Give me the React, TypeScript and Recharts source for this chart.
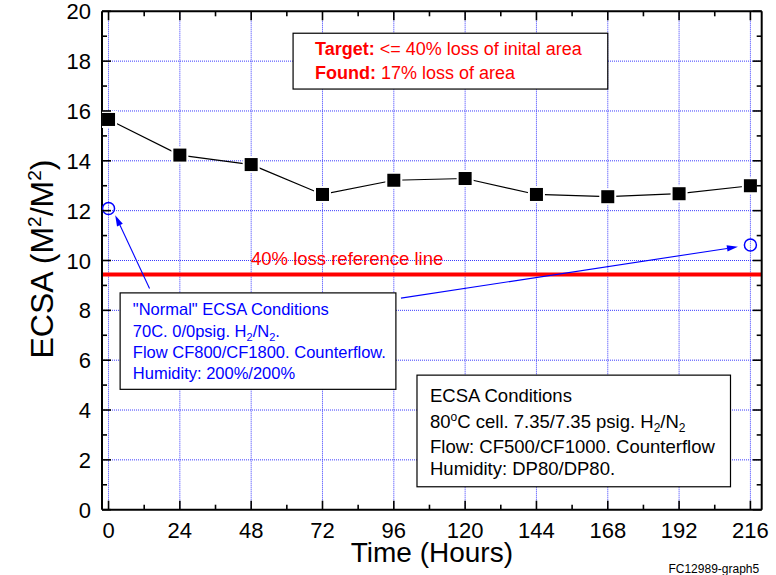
import React from 'react';
import {
  ComposedChart,
  Line,
  XAxis,
  YAxis,
  CartesianGrid,
  ReferenceLine,
  ReferenceArea,
} from 'recharts';

// ---- data ----
const hours = [0, 24, 48, 72, 96, 120, 144, 168, 192, 216];
const ecsaValues = [15.66, 14.23, 13.85, 12.65, 13.22, 13.29, 12.65, 12.56, 12.68, 13.0];
const normalHours = [0, 216];
const normalValues = [12.09, 10.62];
const referenceValue = 9.44;

const xMinorTicks = [0, 12, 24, 36, 48, 60, 72, 84, 96, 108, 120, 132, 144, 156, 168, 180, 192, 204, 216];
const xMajorTicks = [0, 24, 48, 72, 96, 120, 144, 168, 192, 216];
const yTicks = [0, 1, 2, 3, 4, 5, 6, 7, 8, 9, 10, 11, 12, 13, 14, 15, 16, 17, 18, 19, 20];
const yGridValues = [2, 4, 6, 8, 10, 12, 14, 16, 18];
const xDomain = [-2.2, 219.8];
const yDomain = [0, 20];

// annotation anchors (data coordinates)
const targetBox = { x1: 62.1, x2: 168.0, y1: 16.88, y2: 19.12 };
const normalBox = { x1: 3.9, x2: 96.7, y1: 4.83, y2: 8.7 };
const condBox = { x1: 103.8, x2: 209.3, y1: 0.92, y2: 5.4 };
const arrowToStart = [{ x: 13.8, y: 8.88 }, { x: 2.25, y: 11.82 }];
const arrowToEnd = [{ x: 98.4, y: 8.49 }, { x: 211.8, y: 10.55 }];

const ecsaRows = hours.map((t, i) => ({ t, v: ecsaValues[i] }));
const normalRows = normalHours.map((t, i) => ({ t, v: normalValues[i] }));

const FONT = '"Liberation Sans", Arial, Helvetica, sans-serif';
const BLUE = '#0000ff';
const RED = '#ff0000';

const isMajorX = (v: number) => xMajorTicks.indexOf(v) >= 0;

const BottomTick = (props: any) => {
  const { x, y, payload } = props;
  const major = isMajorX(payload.value);
  return (
    <g>
      <line x1={x} y1={y} x2={x} y2={y - (major ? 9 : 5)} stroke="#000" strokeWidth={1.6} />
      {major && (
        <text x={x} y={y + 28.3} textAnchor="middle" fontSize={22} fontFamily={FONT} fill="#000">
          {payload.value}
        </text>
      )}
    </g>
  );
};

const TopTick = (props: any) => {
  const { x, y, payload } = props;
  const major = isMajorX(payload.value);
  return <line x1={x} y1={y} x2={x} y2={y + (major ? 9 : 5)} stroke="#000" strokeWidth={1.6} />;
};

const LeftTick = (props: any) => {
  const { x, y, payload } = props;
  const major = payload.value % 2 === 0;
  return (
    <g>
      <line x1={x} y1={y} x2={x + (major ? 9 : 5)} y2={y} stroke="#000" strokeWidth={1.6} />
      {major && (
        <text x={x - 11} y={y + 8} textAnchor="end" fontSize={22} fontFamily={FONT} fill="#000">
          {payload.value}
        </text>
      )}
    </g>
  );
};

const RightTick = (props: any) => {
  const { x, y, payload } = props;
  const major = payload.value % 2 === 0;
  return <line x1={x} y1={y} x2={x - (major ? 9 : 5)} y2={y} stroke="#000" strokeWidth={1.6} />;
};

const SquareDot = (props: any) => {
  const { cx, cy } = props;
  if (cx == null || cy == null) return null;
  return (
    <rect
      x={cx - 6.5}
      y={cy - 6.5}
      width={13}
      height={13}
      fill="#000"
      stroke="#fff"
      strokeWidth={4}
      paintOrder="stroke"
    />
  );
};

const CircleDot = (props: any) => {
  const { cx, cy } = props;
  if (cx == null || cy == null) return null;
  return <circle cx={cx} cy={cy} r={6} fill="none" stroke={BLUE} strokeWidth={1.5} />;
};

const Arrow = (props: any) => {
  const { x1, y1, x2, y2 } = props;
  if ([x1, y1, x2, y2].some((v) => v == null || isNaN(v))) return null;
  const dx = x2 - x1;
  const dy = y2 - y1;
  const len = Math.sqrt(dx * dx + dy * dy) || 1;
  const ux = dx / len;
  const uy = dy / len;
  const hl = 11;
  const hw = 3.2;
  const bx = x2 - ux * hl;
  const by = y2 - uy * hl;
  const pts = `${x2},${y2} ${bx - uy * hw},${by + ux * hw} ${bx + uy * hw},${by - ux * hw}`;
  return (
    <g>
      <line x1={x1} y1={y1} x2={bx} y2={by} stroke={BLUE} strokeWidth={1.1} />
      <polygon points={pts} fill={BLUE} />
    </g>
  );
};

const RedRefLine = (props: any) => {
  const { x1, y1, x2, y2 } = props;
  return (
    <g>
      <line x1={x1} y1={y1} x2={x2} y2={y2} stroke={RED} strokeWidth={4} />
      <text x={x1 + 149} y={y1 - 9.3} fontSize={18.5} fontFamily={FONT} fill={RED}>
        40% loss reference line
      </text>
    </g>
  );
};

const TargetBoxShape = (props: any) => {
  const { x, y, width, height } = props;
  return (
    <g>
      <rect x={x} y={y} width={width} height={height} fill="#fff" stroke="#000" strokeWidth={1.2} />
      <text x={x + 22} y={y + 22} fontSize={18} fontFamily={FONT} fill={RED}>
        <tspan fontWeight="bold">Target:</tspan>
        {' <= 40% loss of inital area'}
      </text>
      <text x={x + 22} y={y + 45.3} fontSize={18} fontFamily={FONT} fill={RED}>
        <tspan fontWeight="bold">Found:</tspan>
        {' 17% loss of area'}
      </text>
    </g>
  );
};

const NormalBoxShape = (props: any) => {
  const { x, y, width, height } = props;
  const fs = 16.5;
  const tx = x + 12.7;
  return (
    <g fontFamily={FONT} fontSize={fs} fill={BLUE}>
      <rect x={x} y={y} width={width} height={height} fill="#fff" stroke="#000" strokeWidth={1.2} />
      <text x={tx} y={y + 22.3}>"Normal" ECSA Conditions</text>
      <text x={tx} y={y + 43.8}>
        70C. 0/0psig. H
        <tspan dy={4} fontSize={11}>2</tspan>
        <tspan dy={-4}>/N</tspan>
        <tspan dy={4} fontSize={11}>2</tspan>
        <tspan dy={-4}>.</tspan>
      </text>
      <text x={tx} y={y + 64.8}>Flow CF800/CF1800. Counterflow.</text>
      <text x={tx} y={y + 85.8}>Humidity: 200%/200%</text>
    </g>
  );
};

const CondBoxShape = (props: any) => {
  const { x, y, width, height } = props;
  const fs = 18.5;
  const tx = x + 13;
  return (
    <g fontFamily={FONT} fontSize={fs} fill="#000">
      <rect x={x} y={y} width={width} height={height} fill="#fff" stroke="#000" strokeWidth={1.2} />
      <text x={tx} y={y + 26.7}>ECSA Conditions</text>
      <text x={tx} y={y + 53.3}>
        80
        <tspan dy={-7} fontSize={12}>o</tspan>
        <tspan dy={7}>C cell. 7.35/7.35 psig. H</tspan>
        <tspan dy={4} fontSize={12}>2</tspan>
        <tspan dy={-4}>/N</tspan>
        <tspan dy={4} fontSize={12}>2</tspan>
      </text>
      <text x={tx} y={y + 77.7}>Flow: CF500/CF1000. Counterflow</text>
      <text x={tx} y={y + 100}>Humidity: DP80/DP80.</text>
    </g>
  );
};

const XLabel = (props: any) => {
  const vb = props.viewBox || {};
  const { x = 0, y = 0, width = 0 } = vb;
  return (
    <g fontFamily={FONT}>
      <text x={x + width / 2} y={y + 52.5} textAnchor="middle" fontSize={28} fill="#000">
        Time (Hours)
      </text>
      <text x={x + width - 2.5} y={y + 63.3} textAnchor="end" fontSize={12} fill="#000">
        FC12989-graph5
      </text>
    </g>
  );
};

const YLabel = (props: any) => {
  const vb = props.viewBox || {};
  const { y = 0, height = 0 } = vb;
  const cx = 53;
  const cy = y + height / 2 - 1.5;
  return (
    <text
      transform={`translate(${cx},${cy}) rotate(-90)`}
      textAnchor="middle"
      fontSize={32}
      fontFamily={FONT}
      fill="#000"
    >
      ECSA (M
      <tspan dy={-12} fontSize={19}>2</tspan>
      <tspan dy={12}>/M</tspan>
      <tspan dy={-12} fontSize={19}>2</tspan>
      <tspan dy={12}>)</tspan>
    </text>
  );
};

export default function App() {
  return (
    <div style={{ position: 'absolute', left: 0, top: 0, width: 776, height: 575, background: '#fff' }}>
      <ComposedChart width={776} height={575} margin={{ top: 0, right: 0, bottom: 0, left: 0 }}>
        <CartesianGrid
          xAxisId="bottom"
          yAxisId="left"
          verticalValues={hours}
          horizontalValues={yGridValues}
          stroke="#3a3aff"
          strokeWidth={1}
          strokeDasharray="1 1"
        />
        <XAxis
          xAxisId="bottom"
          orientation="bottom"
          type="number"
          dataKey="t"
          domain={xDomain}
          allowDataOverflow
          ticks={xMinorTicks}
          interval={0}
          tickSize={0}
          tickMargin={0}
          tickLine={false}
          tick={<BottomTick />}
          axisLine={{ stroke: '#000', strokeWidth: 2 }}
          height={65.3}
          label={<XLabel />}
        />
        <XAxis
          xAxisId="top"
          orientation="top"
          type="number"
          dataKey="t"
          domain={xDomain}
          allowDataOverflow
          ticks={xMinorTicks}
          interval={0}
          tickSize={0}
          tickMargin={0}
          tickLine={false}
          tick={<TopTick />}
          axisLine={{ stroke: '#000', strokeWidth: 2 }}
          height={11.3}
        />
        <YAxis
          yAxisId="left"
          orientation="left"
          type="number"
          domain={yDomain}
          allowDataOverflow
          ticks={yTicks}
          interval={0}
          tickSize={0}
          tickMargin={0}
          tickLine={false}
          tick={<LeftTick />}
          axisLine={{ stroke: '#000', strokeWidth: 2 }}
          width={102}
          label={<YLabel />}
        />
        <YAxis
          yAxisId="right"
          orientation="right"
          type="number"
          domain={yDomain}
          allowDataOverflow
          ticks={yTicks}
          interval={0}
          tickSize={0}
          tickMargin={0}
          tickLine={false}
          tick={<RightTick />}
          axisLine={{ stroke: '#000', strokeWidth: 2 }}
          width={14.3}
        />
        <ReferenceArea
          xAxisId="bottom"
          yAxisId="left"
          x1={targetBox.x1}
          x2={targetBox.x2}
          y1={targetBox.y1}
          y2={targetBox.y2}
          shape={TargetBoxShape}
        />
        <ReferenceArea
          xAxisId="bottom"
          yAxisId="left"
          x1={normalBox.x1}
          x2={normalBox.x2}
          y1={normalBox.y1}
          y2={normalBox.y2}
          shape={NormalBoxShape}
        />
        <ReferenceArea
          xAxisId="bottom"
          yAxisId="left"
          x1={condBox.x1}
          x2={condBox.x2}
          y1={condBox.y1}
          y2={condBox.y2}
          shape={CondBoxShape}
        />
        <ReferenceLine xAxisId="bottom" yAxisId="left" y={referenceValue} shape={RedRefLine} />
        <ReferenceLine xAxisId="bottom" yAxisId="left" segment={arrowToStart} shape={Arrow} />
        <ReferenceLine xAxisId="bottom" yAxisId="left" segment={arrowToEnd} shape={Arrow} />
        <Line
          xAxisId="bottom"
          yAxisId="left"
          data={ecsaRows}
          dataKey="v"
          type="linear"
          stroke="#000"
          strokeWidth={1.2}
          dot={<SquareDot />}
          activeDot={false}
          isAnimationActive={false}
        />
        <Line
          xAxisId="bottom"
          yAxisId="left"
          data={normalRows}
          dataKey="v"
          type="linear"
          stroke="none"
          dot={<CircleDot />}
          activeDot={false}
          isAnimationActive={false}
        />
      </ComposedChart>
    </div>
  );
}
